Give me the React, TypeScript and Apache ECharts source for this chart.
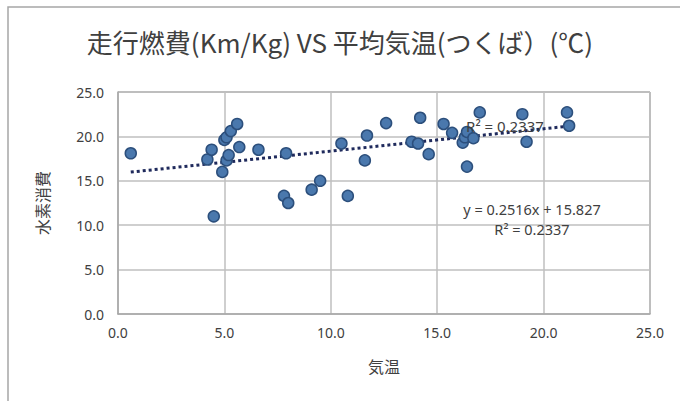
import React, { useEffect, useRef } from "react";
import * as echarts from "echarts";

const temperature = [0.6, 4.2, 4.4, 4.5, 4.9, 5.0, 5.1, 5.1, 5.2, 5.3, 5.6, 5.7, 6.6, 7.8, 7.9, 8.0, 9.1, 9.5, 10.5, 10.8, 11.6, 11.7, 12.6, 13.8, 14.1, 14.2, 14.6, 15.3, 15.7, 16.2, 16.3, 16.4, 16.4, 16.7, 17.0, 19.0, 19.2, 21.1, 21.2];
const hydrogen = [18.1, 17.4, 18.5, 11.0, 16.0, 19.6, 17.3, 19.9, 17.9, 20.6, 21.4, 18.8, 18.5, 13.3, 18.1, 12.5, 14.0, 15.0, 19.2, 13.3, 17.3, 20.1, 21.5, 19.4, 19.2, 22.1, 18.0, 21.4, 20.4, 19.3, 19.9, 20.5, 16.6, 19.8, 22.7, 22.5, 19.4, 22.7, 21.2];
const slope = 0.2516;
const intercept = 15.827;
const trendRange = [0.6, 21.2];
const axisTicks = ["0.0", "5.0", "10.0", "15.0", "20.0", "25.0"];

const titleText = "走行燃費(Km/Kg) VS 平均気温(つくば）(℃)";
const eqText = "y = 0.2516x + 15.827";
const r2Text = "R² = 0.2337";

export default function App() {
  const ref = useRef<HTMLDivElement>(null);
  useEffect(() => {
    if (!ref.current) return;
    const chart = echarts.init(ref.current, null, { renderer: "svg" });
    const points = temperature.map((t, i) => [t, hydrogen[i]]);
    const trend = trendRange.map((x) => [x, slope * x + intercept]);
    const font = "'Noto Sans', 'Noto Sans CJK JP', sans-serif";
    const cjk = "'Noto Sans CJK JP', sans-serif";
    chart.setOption({
      animation: false,
      backgroundColor: "#ffffff",
      title: {
        text: titleText,
        left: "center",
        top: 23,
        textStyle: { fontSize: 26, fontWeight: "normal", color: "#404040", fontFamily: cjk },
      },
      grid: { left: 118, right: 30, top: 92, bottom: 87 },
      xAxis: {
        type: "value",
        min: 0,
        max: 25,
        interval: 5,
        name: "気温",
        nameLocation: "middle",
        nameGap: 44,
        nameTextStyle: { fontSize: 16, color: "#404040", fontFamily: cjk },
        axisLine: { show: true, lineStyle: { color: "#a6a6a6", width: 1.5 } },
        axisTick: { show: false },
        axisLabel: { margin: 11, fontSize: 14, color: "#404040", fontFamily: font, formatter: (v: number) => axisTicks[Math.round(v / 5)] },
        splitLine: { show: true, lineStyle: { color: "#bfbfbf", width: 1.5 } },
      },
      yAxis: {
        type: "value",
        min: 0,
        max: 25,
        interval: 5,
        name: "水素消費",
        nameLocation: "middle",
        nameGap: 68,
        nameTextStyle: { fontSize: 16, color: "#404040", fontFamily: cjk },
        axisLine: { show: true, lineStyle: { color: "#a6a6a6", width: 1.5 } },
        axisTick: { show: false },
        axisLabel: { margin: 14, fontSize: 14, color: "#404040", fontFamily: font, formatter: (v: number) => axisTicks[Math.round(v / 5)] },
        splitLine: { show: true, lineStyle: { color: "#bfbfbf", width: 1.5 } },
      },
      graphic: [
        {
          type: "rect",
          shape: { x: 8, y: 7, width: 700, height: 420 },
          style: { fill: "none", stroke: "#a6a6a6", lineWidth: 1.5 },
          silent: true,
        },
        {
          type: "line",
          shape: { x1: 650, y1: 92, x2: 650, y2: 314 },
          style: { stroke: "#a6a6a6", lineWidth: 1.5 },
          silent: true,
        },
        {
          type: "line",
          shape: { x1: 118, y1: 92, x2: 650, y2: 92 },
          style: { stroke: "#a6a6a6", lineWidth: 1.5 },
          silent: true,
        },
        {
          type: "text",
          x: 505,
          y: 126,
          z: 10,
          style: { text: r2Text, fill: "#404040", fontSize: 15, fontFamily: font, align: "center", verticalAlign: "middle" },
        },
        {
          type: "text",
          x: 532,
          y: 209,
          z: 10,
          style: { text: eqText, fill: "#404040", fontSize: 14.5, fontFamily: font, align: "center", verticalAlign: "middle" },
        },
        {
          type: "text",
          x: 532,
          y: 229,
          z: 10,
          style: { text: r2Text, fill: "#404040", fontSize: 14.5, fontFamily: font, align: "center", verticalAlign: "middle" },
        },
      ],
      series: [
        {
          type: "line",
          data: trend,
          symbol: "none",
          z: 3,
          lineStyle: { color: "#1f2a5c", width: 3, type: [3, 3] },
        },
        {
          type: "scatter",
          data: points,
          symbol: "circle",
          symbolSize: 11,
          z: 4,
          itemStyle: { color: "#4a78ad", borderColor: "#2c4f7c", borderWidth: 1.5, opacity: 1 },
        },
      ],
    });
    return () => chart.dispose();
  }, []);
  return <div ref={ref} style={{ position: "fixed", left: 0, top: 0, width: 680, height: 401 }} />;
}
